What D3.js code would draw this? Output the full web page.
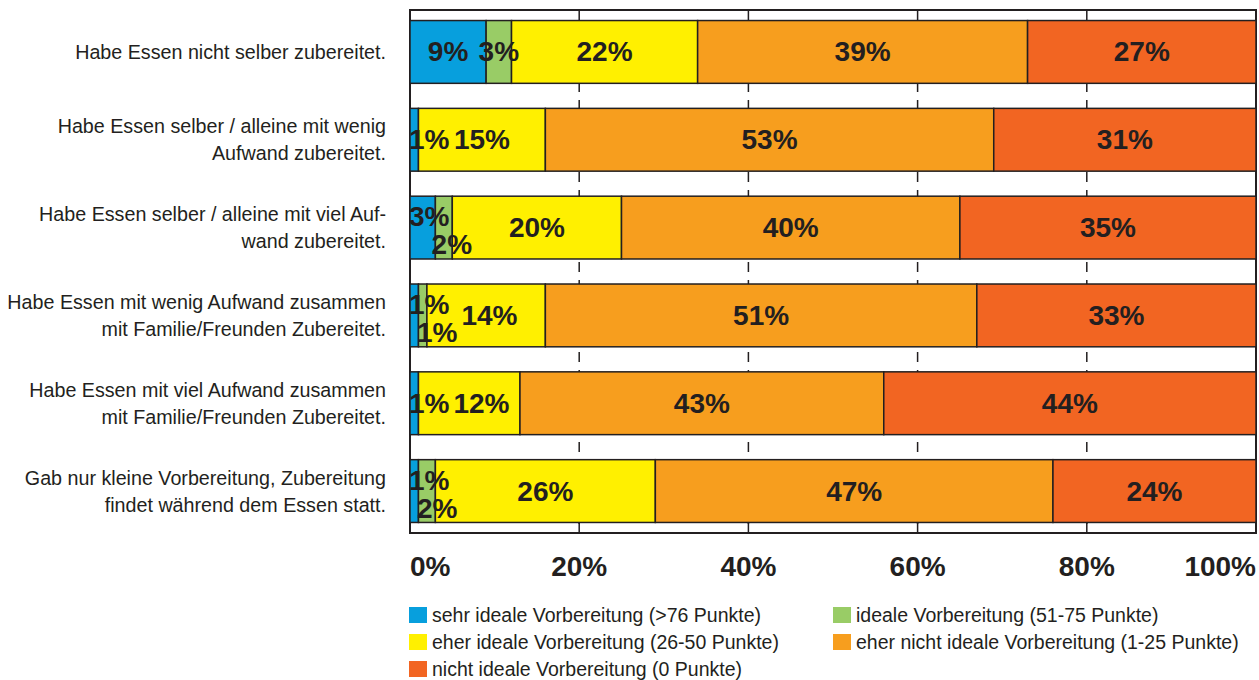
<!DOCTYPE html>
<html>
<head>
<meta charset="utf-8">
<script src="https://cdn.jsdelivr.net/npm/d3@7.9.0/dist/d3.min.js"></script>
<style>
  body { margin: 0; background: #fff; }
  svg { font-family: "Liberation Sans", Arial, sans-serif; }
</style>
</head>
<body>
<svg id="chart" width="1259" height="680"></svg>
<script>
// categories (one row per line of the label)
const categories = [
  ['Habe Essen nicht selber zubereitet.'],
  ['Habe Essen selber / alleine mit wenig', 'Aufwand zubereitet.'],
  ['Habe Essen selber / alleine mit viel Auf-', 'wand zubereitet.'],
  ['Habe Essen mit wenig Aufwand zusammen', 'mit Familie/Freunden Zubereitet.'],
  ['Habe Essen mit viel Aufwand zusammen', 'mit Familie/Freunden Zubereitet.'],
  ['Gab nur kleine Vorbereitung, Zubereitung', 'findet während dem Essen statt.']
];

const seriesNames = [
  'sehr ideale Vorbereitung (>76 Punkte)',
  'ideale Vorbereitung (51-75 Punkte)',
  'eher ideale Vorbereitung (26-50 Punkte)',
  'eher nicht ideale Vorbereitung (1-25 Punkte)',
  'nicht ideale Vorbereitung (0 Punkte)'
];

const sehrIdeal      = [9, 1, 3, 1, 1, 1];
const ideal          = [3, 0, 2, 1, 0, 2];
const eherIdeal      = [22, 15, 20, 14, 12, 26];
const eherNichtIdeal = [39, 53, 40, 51, 43, 47];
const nichtIdeal     = [27, 31, 35, 33, 44, 24];

const tickValues = [0, 20, 40, 60, 80, 100];

const colors = ['#079fdd', '#99cc66', '#fff000', '#f79e1e', '#f26522'];

const seriesValues = [sehrIdeal, ideal, eherIdeal, eherNichtIdeal, nichtIdeal];
const rows = categories.map((c, i) => {
  const r = { idx: i };
  seriesValues.forEach((vals, k) => { r['s' + k] = vals[i]; });
  return r;
});
const keys = seriesNames.map((_, k) => 's' + k);

const svg = d3.select('#chart');
const textColor = '#231f20';

const plot = { left: 410, right: 1256, top: 10, bottom: 533 };

const x = d3.scaleLinear().domain([0, 100]).range([plot.left, plot.right]);
const y = d3.scaleBand()
  .domain(d3.range(categories.length))
  .range([plot.top, plot.bottom])
  .paddingInner(0.285)
  .paddingOuter(0.12);

// frame
svg.append('rect')
  .attr('x', plot.left).attr('y', plot.top)
  .attr('width', plot.right - plot.left).attr('height', plot.bottom - plot.top)
  .attr('fill', '#fff').attr('stroke', textColor).attr('stroke-width', 2);

// gridlines (dashed, behind bars)
const inner = tickValues.slice(1, -1);
const grid = svg.append('g')
  .attr('stroke', textColor).attr('stroke-width', 1.5);

grid.selectAll('line.dash')
  .data(inner)
  .join('line')
  .attr('class', 'dash')
  .attr('x1', d => x(d)).attr('x2', d => x(d))
  .attr('y1', plot.top).attr('y2', plot.bottom)
  .attr('stroke-dasharray', '10,8');

// solid ticks in the outer gaps
const lastBottom = y(categories.length - 1) + y.bandwidth();
grid.selectAll('line.solid')
  .data(inner)
  .join('line')
  .attr('class', 'solid')
  .attr('x1', d => x(d)).attr('x2', d => x(d))
  .attr('y1', lastBottom).attr('y2', plot.bottom);

const stacked = d3.stack().keys(keys)(rows);

// bars
svg.append('g')
  .selectAll('g')
  .data(stacked)
  .join('g')
  .attr('fill', (d, i) => colors[i])
  .selectAll('rect')
  .data(d => d.filter(s => s[1] - s[0] > 0))
  .join('rect')
  .attr('x', d => x(d[0]))
  .attr('y', d => y(d.data.idx))
  .attr('width', d => x(d[1]) - x(d[0]))
  .attr('height', y.bandwidth())
  .attr('stroke', textColor)
  .attr('stroke-width', 1.5);

// value labels
const labelG = svg.append('g')
  .attr('font-weight', 'bold')
  .attr('font-size', 28)
  .attr('fill', textColor);

categories.forEach((c, i) => {
  const segs = [];
  stacked.forEach((layer, k) => {
    const s = layer[i];
    const v = s[1] - s[0];
    if (v > 0) segs.push({ v, x0: x(s[0]), x1: x(s[1]) });
  });
  const cy = y(i) + y.bandwidth() / 2;
  let maxRight = -Infinity;
  segs.forEach((s, j) => {
    s.dy = 0;
    const prev = segs[j - 1];
    if (s.v < 5 && prev && prev.v < 5) {
      prev.dy = -11;
      s.dy = 17;
      s.lower = true;
    }
  });
  segs.forEach(s => {
    const t = labelG.append('text')
      .attr('dominant-baseline', 'central')
      .attr('text-anchor', 'middle')
      .text(s.v + '%');
    const w = t.node().getComputedTextLength();
    let cx = (s.x0 + s.x1) / 2;
    if (s.v < 5) {
      cx = Math.max(cx, plot.left - 1 + w / 2);
      if (s.lower) cx += 8;
    } else if (cx - w / 2 < maxRight + 4) {
      cx = maxRight + 4 + w / 2;
    }
    maxRight = Math.max(maxRight, cx + w / 2);
    t.attr('x', cx).attr('y', cy + s.dy);
  });
});

// category labels
const catG = svg.append('g')
  .attr('font-size', 19.7)
  .attr('fill', textColor)
  .attr('text-anchor', 'end');

categories.forEach((lines, i) => {
  const cy = y(i) + y.bandwidth() / 2;
  const lh = 27;
  lines.forEach((line, j) => {
    catG.append('text')
      .attr('x', 386)
      .attr('y', cy + (j - (lines.length - 1) / 2) * lh)
      .attr('dominant-baseline', 'central')
      .text(line);
  });
});

// x axis tick labels
svg.append('g')
  .attr('font-weight', 'bold')
  .attr('font-size', 28)
  .attr('fill', textColor)
  .selectAll('text')
  .data(tickValues)
  .join('text')
  .attr('x', d => x(d))
  .attr('y', 576)
  .attr('text-anchor', (d, i) => i === 0 ? 'start' : (i === tickValues.length - 1 ? 'end' : 'middle'))
  .text(d => d + '%');

// legend
const legendPos = [
  { x: 409, y: 607 }, { x: 833, y: 607 },
  { x: 409, y: 634 }, { x: 833, y: 634 },
  { x: 409, y: 661 }
];
const legend = svg.append('g')
  .selectAll('g')
  .data(seriesNames)
  .join('g')
  .attr('transform', (d, i) => `translate(${legendPos[i].x},${legendPos[i].y})`);

legend.append('rect')
  .attr('width', 18).attr('height', 16)
  .attr('fill', (d, i) => colors[i]);

legend.append('text')
  .attr('x', 23).attr('y', 15)
  .attr('font-size', 19.5)
  .attr('fill', textColor)
  .text(d => d);
</script>
</body>
</html>
